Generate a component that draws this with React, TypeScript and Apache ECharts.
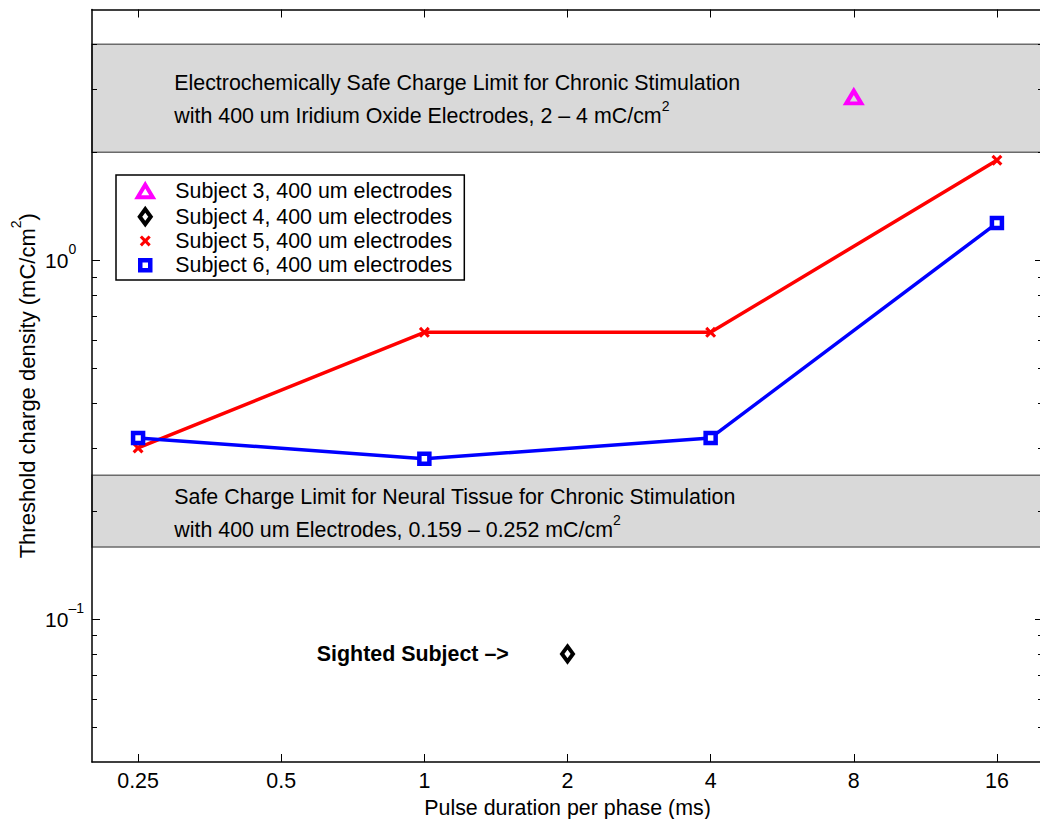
import React, { useEffect, useRef } from 'react';
import * as echarts from 'echarts';

// ---- data ----
const xTicks = [0.25, 0.5, 1, 2, 4, 8, 16];
const xTickLabels = ['0.25', '0.5', '1', '2', '4', '8', '16'];
const yMajorTicks = [0.1, 1];
const yMajorLabels = ['10{s|–1}', '10{s|0}{p| }'];
const yMinorTicks = [0.05, 0.06, 0.07, 0.08, 0.09, 0.2, 0.3, 0.4, 0.5, 0.6, 0.7, 0.8, 0.9, 2, 3, 4];

const seriesNames = [
  'Subject 3, 400 um electrodes',
  'Subject 4, 400 um electrodes',
  'Subject 5, 400 um electrodes',
  'Subject 6, 400 um electrodes',
];
const subject3X = [8];
const subject3Y = [2.85];
const subject4X = [2];
const subject4Y = [0.08];
const subject5X = [0.25, 1, 4, 16];
const subject5Y = [0.3, 0.63, 0.63, 1.9];
const subject6X = [0.25, 1, 4, 16];
const subject6Y = [0.32, 0.28, 0.32, 1.27];

const bandIridium = [2, 4];
const bandNeural = [0.159, 0.252];
const bandIridiumText = '{a|Electrochemically Safe Charge Limit for Chronic Stimulation}\n{a|with 400 um Iridium Oxide Electrodes, 2 – 4 mC/cm}{s|2}';
const bandNeuralText = '{a|Safe Charge Limit for Neural Tissue for Chronic Stimulation}\n{a|with 400 um Electrodes, 0.159 – 0.252 mC/cm}{s|2}';
const sightedText = 'Sighted Subject –>';
const yName = '{a|Threshold charge density (mC/cm}{s|2}{a|)}';

const FONT = "'Liberation Sans', Arial, Helvetica, sans-serif";
const FS = 21.4;

const xMarkPath = 'path://M0,2.2L2.2,0L5.5,3.3L8.8,0L11,2.2L7.7,5.5L11,8.8L8.8,11L5.5,7.7L2.2,11L0,8.8L3.3,5.5Z';
const legTri = 'path://M0,0M50,20M25,3.75L32.5,16.25L17.5,16.25Z';
const legDia = 'path://M0,0M50,20M25,2.5L30.5,10L25,17.5L19.5,10Z';
const legX = 'path://M0,0M50,20M19.5,6.7L21.7,4.5L25,7.8L28.3,4.5L30.5,6.7L27.2,10L30.5,13.3L28.3,15.5L25,12.2L21.7,15.5L19.5,13.3L22.8,10Z';
const legSq = 'path://M0,0M50,20M20,5L30,5L30,15L20,15Z';

const same = (a: number, b: number) => Math.abs(Math.log(a) - Math.log(b)) < 1e-6;

const pairs = (xs: number[], ys: number[]) => xs.map((x, i) => [x, ys[i]]);

export default function App() {
  const ref = useRef<HTMLDivElement>(null);
  useEffect(() => {
    if (!ref.current) return;
    const chart = echarts.init(ref.current, null, { renderer: 'svg' });
    const black = '#000';
    const yBase = {
      type: 'log',
      logBase: 10,
      min: 0.04,
      max: 5,
      z: 2,
      splitLine: { show: false },
    };
    const xBase = {
      type: 'log',
      logBase: 2,
      min: 0.2,
      max: 20,
      z: 2,
      splitLine: { show: false },
    };
    const option: any = {
      animation: false,
      backgroundColor: '#fff',
      textStyle: { fontFamily: FONT, color: black },
      grid: { left: 92, right: -3, top: 9.5, bottom: 57, containLabel: false, outerBoundsMode: 'none' },
      xAxis: [
        {
          ...xBase,
          position: 'bottom',
          axisLine: { show: true, lineStyle: { color: black, width: 1.5 } },
          axisTick: { show: true, inside: true, length: 8, customValues: xTicks, lineStyle: { color: black, width: 1 } },
          axisLabel: {
            show: true,
            customValues: xTicks,
            margin: 8,
            fontSize: FS,
            color: black,
            fontFamily: FONT,
            formatter: (v: number) => {
              const i = xTicks.findIndex((t) => same(t, v));
              return i >= 0 ? xTickLabels[i] : '';
            },
          },
          name: 'Pulse duration per phase (ms)',
          nameLocation: 'middle',
          nameGap: 35,
          nameMoveOverlap: false,
          nameTextStyle: { fontSize: FS, color: black, fontFamily: FONT },
        },
        {
          ...xBase,
          position: 'top',
          axisLine: { show: true, lineStyle: { color: black, width: 1.5 } },
          axisTick: { show: true, inside: true, length: 8, customValues: xTicks, lineStyle: { color: black, width: 1 } },
          axisLabel: { show: false },
        },
      ],
      yAxis: [
        {
          ...yBase,
          position: 'left',
          axisLine: { show: true, lineStyle: { color: black, width: 1.5 } },
          axisTick: { show: true, inside: true, length: 8, customValues: yMajorTicks, lineStyle: { color: black, width: 1 } },
          axisLabel: {
            show: true,
            customValues: yMajorTicks,
            margin: 8,
            fontSize: 21,
            lineHeight: 36,
            color: black,
            fontFamily: FONT,
            rich: {
              s: { fontSize: 14, lineHeight: 14, verticalAlign: 'top', color: black, fontFamily: FONT },
              p: { fontSize: 14, lineHeight: 14, width: 7.8, color: black, fontFamily: FONT },
            },
            formatter: (v: number) => {
              const i = yMajorTicks.findIndex((t) => same(t, v));
              return i >= 0 ? yMajorLabels[i] : '';
            },
          },
          name: yName,
          nameLocation: 'middle',
          nameGap: 47,
          nameMoveOverlap: false,
          nameTextStyle: {
            fontSize: 22,
            color: black,
            rich: {
              a: { fontSize: 22, lineHeight: 36, color: black, fontFamily: FONT },
              s: { fontSize: 14, verticalAlign: 'top', color: black, fontFamily: FONT },
            },
          },
        },
        {
          ...yBase,
          position: 'left',
          axisLine: { show: false },
          axisTick: { show: true, inside: true, length: 5, customValues: yMinorTicks, lineStyle: { color: black, width: 1 } },
          axisLabel: { show: false },
        },
        {
          ...yBase,
          position: 'right',
          axisLine: { show: true, lineStyle: { color: black, width: 1.5 } },
          axisTick: { show: true, inside: true, length: 8, customValues: yMajorTicks, lineStyle: { color: black, width: 1 } },
          axisLabel: { show: false },
        },
        {
          ...yBase,
          position: 'right',
          axisLine: { show: false },
          axisTick: { show: true, inside: true, length: 5, customValues: yMinorTicks, lineStyle: { color: black, width: 1 } },
          axisLabel: { show: false },
        },
      ],
      legend: {
        orient: 'vertical',
        left: 116,
        top: 175,
        itemWidth: 50,
        itemHeight: 20,
        itemGap: 1.7,
        padding: [4, 12, 2.5, 2],
        backgroundColor: '#fff',
        borderColor: black,
        borderWidth: 1.5,
        borderRadius: 0,
        selectedMode: false,
        textStyle: { fontSize: FS, lineHeight: 21, color: black, fontFamily: FONT },
        data: [
          { name: seriesNames[0], icon: legTri, itemStyle: { color: '#fff', borderColor: '#ff00ff', borderWidth: 4, opacity: 1 } },
          { name: seriesNames[1], icon: legDia, itemStyle: { color: '#fff', borderColor: '#000000', borderWidth: 4, opacity: 1 } },
          { name: seriesNames[2], icon: legX, itemStyle: { color: '#ff0000', borderColor: '#ff0000', borderWidth: 0, opacity: 1 } },
          { name: seriesNames[3], icon: legSq, itemStyle: { color: '#fff', borderColor: '#0000ff', borderWidth: 4.5, opacity: 1 } },
        ],
      },
      series: [
        {
          name: 'bands',
          type: 'line',
          data: [],
          z: 1,
          silent: true,
          markArea: {
            silent: true,
            itemStyle: { color: '#d9d9d9', borderColor: '#6b6b6b', borderWidth: 1.5, opacity: 1 },
            label: {
              show: true,
              position: 'insideLeft',
              distance: 83,
              color: black,
              align: 'left',
              rich: {
                a: { fontSize: FS, lineHeight: 33, color: black, fontFamily: FONT },
                s: { fontSize: 14, verticalAlign: 'top', color: black, fontFamily: FONT },
              },
            },
            data: [
              [
                { yAxis: bandIridium[0], label: { formatter: bandIridiumText, offset: [0, 1] } },
                { yAxis: bandIridium[1] },
              ],
              [
                { yAxis: bandNeural[0], label: { formatter: bandNeuralText, offset: [0, 2] } },
                { yAxis: bandNeural[1] },
              ],
            ],
          },
        },
        {
          name: seriesNames[0],
          type: 'scatter',
          z: 3,
          data: pairs(subject3X, subject3Y),
          symbol: 'triangle',
          symbolSize: [15, 12.5],
          itemStyle: { color: 'rgba(0,0,0,0)', borderColor: '#ff00ff', borderWidth: 4, opacity: 1 },
        },
        {
          name: seriesNames[1],
          type: 'scatter',
          z: 3,
          data: pairs(subject4X, subject4Y),
          symbol: 'diamond',
          symbolSize: [11, 15],
          itemStyle: { color: '#fff', borderColor: '#000000', borderWidth: 4, opacity: 1 },
          label: {
            show: true,
            position: 'left',
            distance: 51.5,
            formatter: sightedText,
            fontSize: FS,
            fontWeight: 'bold',
            color: black,
            opacity: 1,
            fontFamily: FONT,
          },
        },
        {
          name: seriesNames[2],
          type: 'line',
          z: 3,
          data: pairs(subject5X, subject5Y),
          symbol: xMarkPath,
          symbolSize: 11,
          showSymbol: true,
          itemStyle: { color: '#ff0000', opacity: 1 },
          lineStyle: { color: '#ff0000', width: 3.5 },
        },
        {
          name: seriesNames[3],
          type: 'line',
          z: 3,
          data: pairs(subject6X, subject6Y),
          symbol: 'rect',
          symbolSize: 10,
          showSymbol: true,
          itemStyle: { color: '#ffffff', borderColor: '#0000ff', borderWidth: 4.5, opacity: 1 },
          lineStyle: { color: '#0000ff', width: 3.5 },
        },
      ],
    };
    chart.setOption(option);
    return () => chart.dispose();
  }, []);
  return (
    <div
      ref={ref}
      style={{ position: 'absolute', left: 0, top: 0, width: 1040, height: 819, background: '#fff' }}
    />
  );
}
